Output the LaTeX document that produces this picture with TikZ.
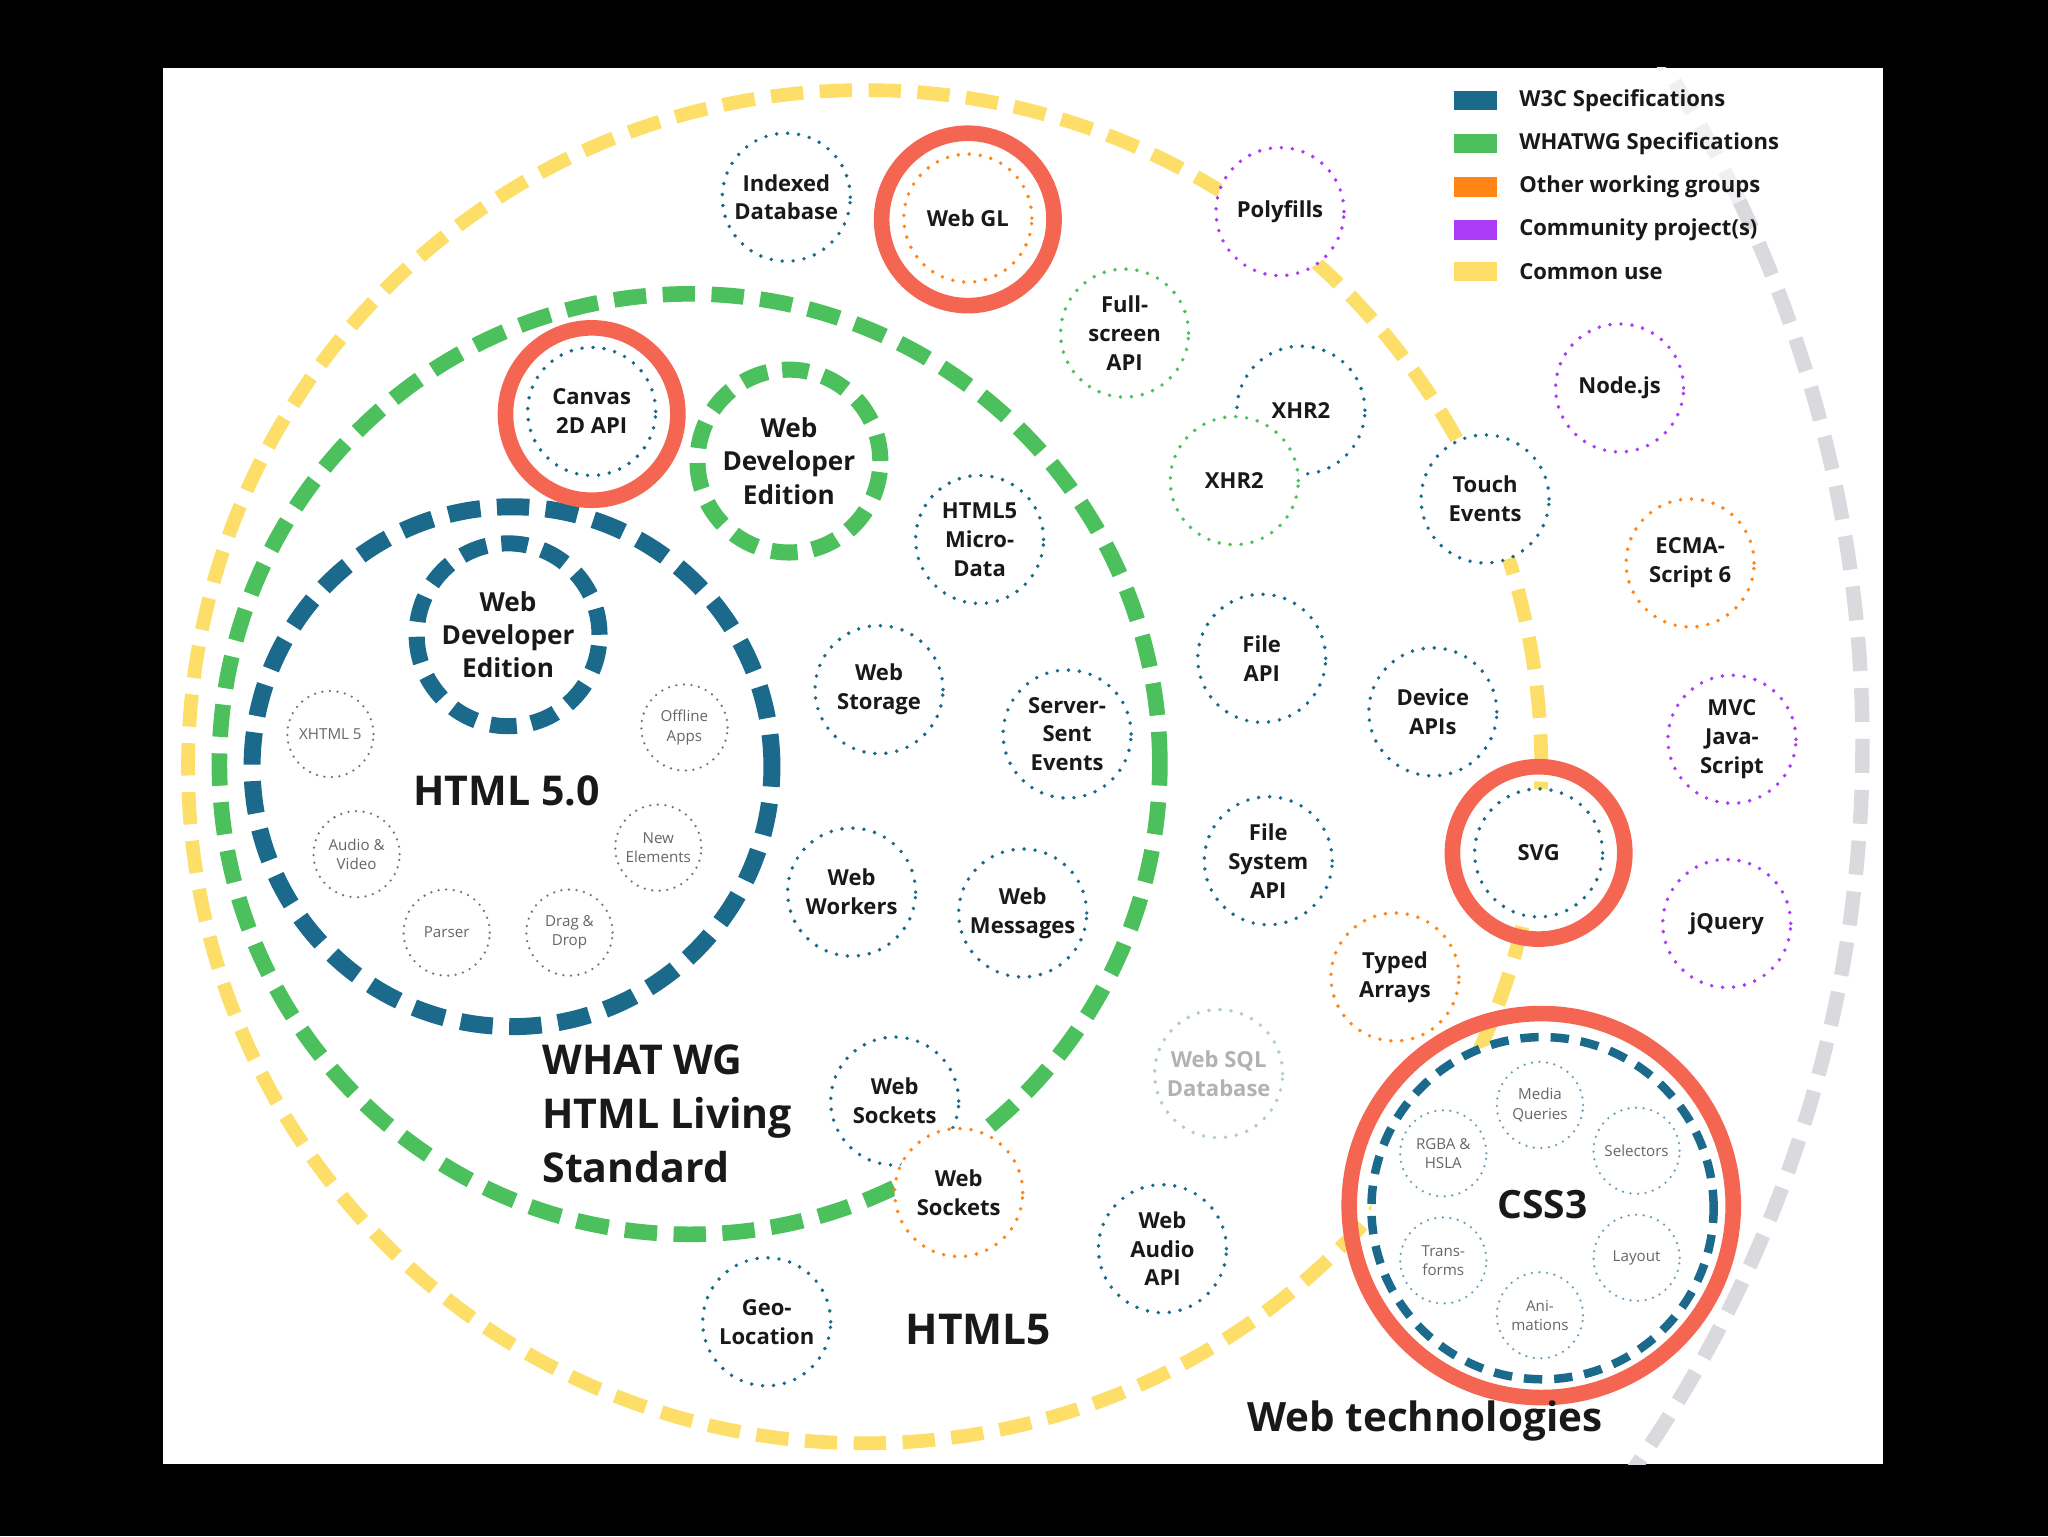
\documentclass[tikz,border=0pt]{standalone}
\usepackage{fontspec}
\setmainfont{Open Sans}
\usetikzlibrary{positioning}
\definecolor{w3c}{RGB}{27,106,140}
\definecolor{whatwg}{RGB}{75,192,92}
\definecolor{othergrp}{RGB}{255,133,20}
\definecolor{community}{RGB}{170,60,245}
\definecolor{common}{RGB}{253,222,105}
\definecolor{redring}{RGB}{244,102,82}
\definecolor{webtech}{RGB}{218,218,222}
\definecolor{ink}{RGB}{25,25,25}

\begin{document}
\begin{tikzpicture}[x=0.2mm,y=-0.2mm,
        spec/.style={circle,draw=#1,fill=white,line width=1.7pt,dash pattern=on 0pt off 4.8pt,line cap=round,
            minimum size=19.6mm,inner sep=0pt,align=center,text=ink,font=\bfseries\fontsize{9.6}{12.6}\selectfont},
        feature/.style={circle,draw=#1,fill=white,line width=1.1pt,dash pattern=on 0pt off 3.3pt,line cap=round,
            minimum size=13.2mm,inner sep=0pt,align=center,text=black!60,font=\fontsize{6.6}{8.4}\selectfont},
        ring/.style={circle,draw=#1,inner sep=0pt,dash pattern=on 14.1pt off 7.2pt},
        wde/.style={ring=#1,line width=7pt,minimum size=28mm,dash pattern=on 11.5pt off 6.5pt,
            align=center,text=ink,font=\bfseries\fontsize{11.4}{14.5}\selectfont},
        highlight/.style={circle,draw=redring,line width=6.8pt,inner sep=0pt,minimum size=26.4mm},
        heading/.style={inner sep=0pt,text=ink,font=\bfseries\fontsize{#1}{23.6}\selectfont},
        swatch/.style={fill=#1,minimum width=6.6mm,minimum height=3mm,inner sep=0pt},
        legendtext/.style={right=3.2mm of #1,inner sep=0pt,text=ink,font=\bfseries\fontsize{9.6}{11}\selectfont}
    ]
        \useasboundingbox (0,0) rectangle (1568,1176);
        \fill[black] (0,0) rectangle (1568,1176);
        \fill[white] (125,52) rectangle (1442,1121);

        % Web technologies arc
        \begin{scope}
            \clip (125,52) rectangle (1442,1121);
            \coordinate (techcentre) at (460,570);
            \draw[webtech,line width=6.3pt,dash pattern=on 14.8pt off 7.4pt]
                (techcentre) ++(36:966) arc[start angle=36,end angle=-25.5,radius=966];
            \draw[webtech!40,line width=6.3pt,dash pattern=on 14.8pt off 7.4pt]
                (techcentre) ++(-25.5:966) arc[start angle=-25.5,end angle=-34,radius=966];
        \end{scope}

        % HTML5, living standard, HTML 5.0
        \node[ring=common,line width=6pt,minimum size=207.2mm] (commonuse) at (662,587) {};
        \node[ring=whatwg,line width=6.8pt,minimum size=144mm] (livingstd) at (528,585) {};
        \node[ring=w3c,line width=7.4pt,minimum size=79.6mm] (html50ring) at (392,587) {};

        % Developer editions
        \node[wde=w3c] (wdeblue) at (389,486) {Web\\Developer\\Edition};
        \node[wde=whatwg] (wdegreen) at (604,353) {Web\\Developer\\Edition};

        % HTML 5.0 features
        \node[feature=black!55] (xhtml) at (253,562) {XHTML 5};
        \node[feature=black!55] (offline) at (524,557) {Offline\\Apps};
        \node[feature=black!55] (audio) at (273,654) {Audio \&\\Video};
        \node[feature=black!55] (newel) at (504,649) {New\\Elements};
        \node[feature=black!55] (parser) at (342,714) {Parser};
        \node[feature=black!55] (dragdrop) at (436,714) {Drag \&\\Drop};

        % Specifications
        \node[spec=w3c] (indexeddb) at (602,151) {Indexed\\Database};
        \node[spec=othergrp] (webgl) at (741,167) {Web GL};
        \node[spec=community] (polyfills) at (980,162) {Polyfills};
        \node[spec=whatwg] (fullscreen) at (861,255) {Full-\\screen\\API};
        \node[spec=w3c] (xhrblue) at (996,314) {XHR2};
        \node[spec=whatwg] (xhrgreen) at (945,368) {XHR2};
        \node[spec=w3c] (touch) at (1137,382) {Touch\\Events};
        \node[spec=community] (nodejs) at (1240,297) {Node.js};
        \node[spec=othergrp] (ecma) at (1294,431) {ECMA-\\Script 6};
        \node[spec=community] (mvc) at (1326,566) {MVC\\Java-\\Script};
        \node[spec=community] (jquery) at (1322,707) {jQuery};
        \node[spec=w3c] (canvas) at (453,315) {Canvas\\2D API};
        \node[spec=w3c] (microdata) at (750,413) {HTML5\\Micro-\\Data};
        \node[spec=w3c] (storage) at (673,528) {Web\\Storage};
        \node[spec=w3c] (sse) at (817,562) {Server-\\Sent\\Events};
        \node[spec=w3c] (fileapi) at (966,504) {File\\API};
        \node[spec=w3c] (device) at (1097,545) {Device\\APIs};
        \node[spec=w3c] (svg) at (1178,653) {SVG};
        \node[spec=w3c] (filesys) at (971,659) {File\\System\\API};
        \node[spec=w3c] (workers) at (652,683) {Web\\Workers};
        \node[spec=w3c] (messages) at (783,699) {Web\\Messages};
        \node[spec=othergrp] (typed) at (1068,748) {Typed\\Arrays};
        \node[spec=w3c!35,text=black!30] (websql) at (933,822) {Web SQL\\Database};
        \node[spec=w3c] (socketsblue) at (685,843) {Web\\Sockets};
        \node[spec=othergrp] (socketsorange) at (734,913) {Web\\Sockets};
        \node[spec=w3c] (audioapi) at (890,956) {Web\\Audio\\API};
        \node[spec=w3c] (geo) at (587,1012) {Geo-\\Location};

        % CSS3
        \node[ring=w3c,fill=white,line width=3.7pt,dash pattern=on 8pt off 5.2pt,minimum size=52.4mm] (css3ring) at (1181,925) {};
        \node[feature=w3c!65] (media) at (1179,846) {Media\\Queries};
        \node[feature=w3c!65] (rgba) at (1105,883) {RGBA \&\\HSLA};
        \node[feature=w3c!65] (selectors) at (1253,881) {Selectors};
        \node[feature=w3c!65] (transforms) at (1105,965) {Trans-\\forms};
        \node[feature=w3c!65] (layout) at (1253,963) {Layout};
        \node[feature=w3c!65] (anim) at (1179,1007) {Ani-\\mations};

        % Highlights
        \node[highlight] (hlwebgl) at (741,168) {};
        \node[highlight] (hlcanvas) at (453,317) {};
        \node[highlight] (hlsvg) at (1178,653) {};
        \node[highlight,minimum size=58.8mm] (hlcss3) at (1180,923) {};

        % Headings
        \node[heading=17.9,anchor=base] (html50) at (388,617) {HTML 5.0};
        \node[heading=17.9,anchor=west,align=left] (whatwg) at (415,853) {WHAT WG\\HTML Living\\Standard};
        \node[heading=18.5,anchor=base] (html5) at (749,1029) {HTML5};
        \node[heading=17,anchor=base] (css3) at (1181,933) {CSS3};
        \node[heading=17.6,anchor=base] (webtechs) at (1091,1096) {Web technologies};

        % Legend
        \node[swatch=w3c] (lgw3c) at (1130,77) {};
        \node[swatch=whatwg] (lgwhatwg) at (1130,110) {};
        \node[swatch=othergrp] (lgother) at (1130,143) {};
        \node[swatch=community] (lgcommunity) at (1130,176) {};
        \node[swatch=common] (lgcommon) at (1130,208) {};
        \node[legendtext=lgw3c] {W3C Specifications};
        \node[legendtext=lgwhatwg] {WHATWG Specifications};
        \node[legendtext=lgother] {Other working groups};
        \node[legendtext=lgcommunity] {Community project(s)};
        \node[legendtext=lgcommon] {Common use};
    \end{tikzpicture}
\end{document}
